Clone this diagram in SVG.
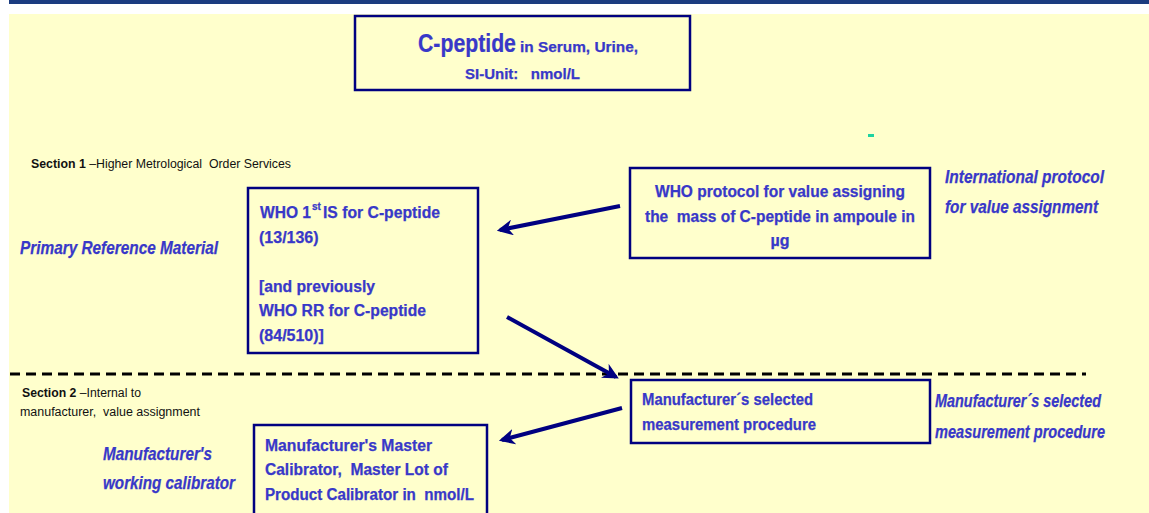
<svg xmlns="http://www.w3.org/2000/svg" width="1149" height="513" viewBox="0 0 1149 513">
<defs>
<style>
text{white-space:pre}
.box{fill:none;stroke:#000080;stroke-width:2.5}
.bt{font-family:"Liberation Sans",Arial,sans-serif;font-weight:bold;fill:#3838C8;font-size:16px;stroke:#3838C8;stroke-width:0.25}
.it{font-family:"Liberation Sans",Arial,sans-serif;font-weight:bold;font-style:italic;fill:#3838C8;font-size:18px;stroke:#3838C8;stroke-width:0.25}
.sm{font-family:"Liberation Sans",Arial,sans-serif;fill:#111;font-size:12px}
.arr{stroke:#000080;stroke-width:4;fill:none;marker-end:url(#ah)}
</style>
<marker id="ah" viewBox="0 0 10 10" refX="8" refY="5" markerWidth="4" markerHeight="4" orient="auto" markerUnits="strokeWidth">
<path d="M0,0 L10,5 L0,10 L3,5 Z" fill="#000080"/>
</marker>
</defs>
<rect x="0" y="0" width="1149" height="513" fill="#ffffff"/>
<rect x="9" y="0" width="1140" height="4" fill="#1B3C80"/>
<rect x="9" y="14" width="1140" height="499" fill="#FFFFCC"/>
<rect x="868" y="134" width="6" height="3" fill="#1ED3A0"/>

<g id="title">
<rect class="box" x="355" y="16" width="335" height="74"/>
<text transform="translate(418,52) scale(0.85,1)" x="0" y="0" class="bt" style="font-size:25px">C-peptide</text>
<text x="520" y="52" class="bt" style="font-size:15px" textLength="118" lengthAdjust="spacingAndGlyphs">in Serum, Urine,</text>
<text x="465" y="79" class="bt" style="font-size:15px" textLength="115" lengthAdjust="spacingAndGlyphs">SI-Unit:   nmol/L</text>
</g>

<g id="section1">
<text x="31" y="168" class="sm" textLength="260" lengthAdjust="spacingAndGlyphs"><tspan font-weight="bold">Section 1</tspan> –Higher Metrological  Order Services</text>
</g>

<g id="primary-label">
<text x="20" y="254" class="it" style="font-size:19px" textLength="198" lengthAdjust="spacingAndGlyphs">Primary Reference Material</text>
</g>

<g id="who-is">
<rect class="box" x="248" y="188" width="230" height="165"/>
<text x="260" y="218" class="bt" textLength="51" lengthAdjust="spacingAndGlyphs">WHO 1</text>
<text x="312" y="210" class="bt" style="font-size:10px">st</text>
<text x="323" y="218" class="bt" textLength="117" lengthAdjust="spacingAndGlyphs">IS for C-peptide</text>
<text x="259" y="243" class="bt">(13/136)</text>
<text x="259" y="292" class="bt" textLength="116" lengthAdjust="spacingAndGlyphs">[and previously</text>
<text x="259" y="316" class="bt" textLength="167" lengthAdjust="spacingAndGlyphs">WHO RR for C-peptide</text>
<text x="259" y="341" class="bt">(84/510)]</text>
</g>

<g id="who-protocol">
<rect class="box" x="630" y="168" width="300" height="90"/>
<text x="780" y="197" class="bt" text-anchor="middle" textLength="250" lengthAdjust="spacingAndGlyphs">WHO protocol for value assigning</text>
<text x="780" y="222" class="bt" text-anchor="middle" textLength="270" lengthAdjust="spacingAndGlyphs">the  mass of C-peptide in ampoule in</text>
<text x="780" y="246" class="bt" text-anchor="middle">µg</text>
</g>

<g id="intl-label">
<text x="945" y="183" class="it" textLength="159" lengthAdjust="spacingAndGlyphs">International protocol</text>
<text x="945" y="213" class="it" textLength="153" lengthAdjust="spacingAndGlyphs">for value assignment</text>
</g>

<g id="section2">
<text x="22" y="397" class="sm" textLength="119" lengthAdjust="spacingAndGlyphs"><tspan font-weight="bold">Section 2</tspan> –Internal to</text>
<text x="20" y="416" class="sm" textLength="180" lengthAdjust="spacingAndGlyphs">manufacturer,  value assignment</text>
</g>

<g id="working-label">
<text x="103" y="460" class="it" textLength="109" lengthAdjust="spacingAndGlyphs">Manufacturer's</text>
<text x="103" y="489" class="it" textLength="132" lengthAdjust="spacingAndGlyphs">working calibrator</text>
</g>

<g id="master-cal">
<rect class="box" x="254" y="425" width="233" height="95"/>
<text x="265" y="451" class="bt" textLength="167" lengthAdjust="spacingAndGlyphs">Manufacturer's Master</text>
<text x="265" y="475" class="bt" textLength="183" lengthAdjust="spacingAndGlyphs">Calibrator,  Master Lot of</text>
<text x="265" y="500" class="bt" textLength="209" lengthAdjust="spacingAndGlyphs">Product Calibrator in  nmol/L</text>
</g>

<g id="selected-proc">
<rect class="box" x="631" y="380" width="299" height="63"/>
<text x="642" y="405" class="bt" textLength="171" lengthAdjust="spacingAndGlyphs">Manufacturer´s selected</text>
<text x="642" y="430" class="bt" textLength="174" lengthAdjust="spacingAndGlyphs">measurement procedure</text>
</g>

<g id="selected-label">
<text x="935" y="407" class="it" style="font-size:17.5px" textLength="166" lengthAdjust="spacingAndGlyphs">Manufacturer´s selected</text>
<text x="935" y="438" class="it" style="font-size:17.5px" textLength="170" lengthAdjust="spacingAndGlyphs">measurement procedure</text>
</g>

<g id="connectors">
<line x1="10" y1="374" x2="1086" y2="374" stroke="#000" stroke-width="3" stroke-dasharray="10 6"/>
<line class="arr" x1="620" y1="206" x2="500" y2="230"/>
<line class="arr" x1="507" y1="317" x2="616" y2="377"/>
<line class="arr" x1="622" y1="408" x2="502" y2="440"/>
</g>
</svg>
